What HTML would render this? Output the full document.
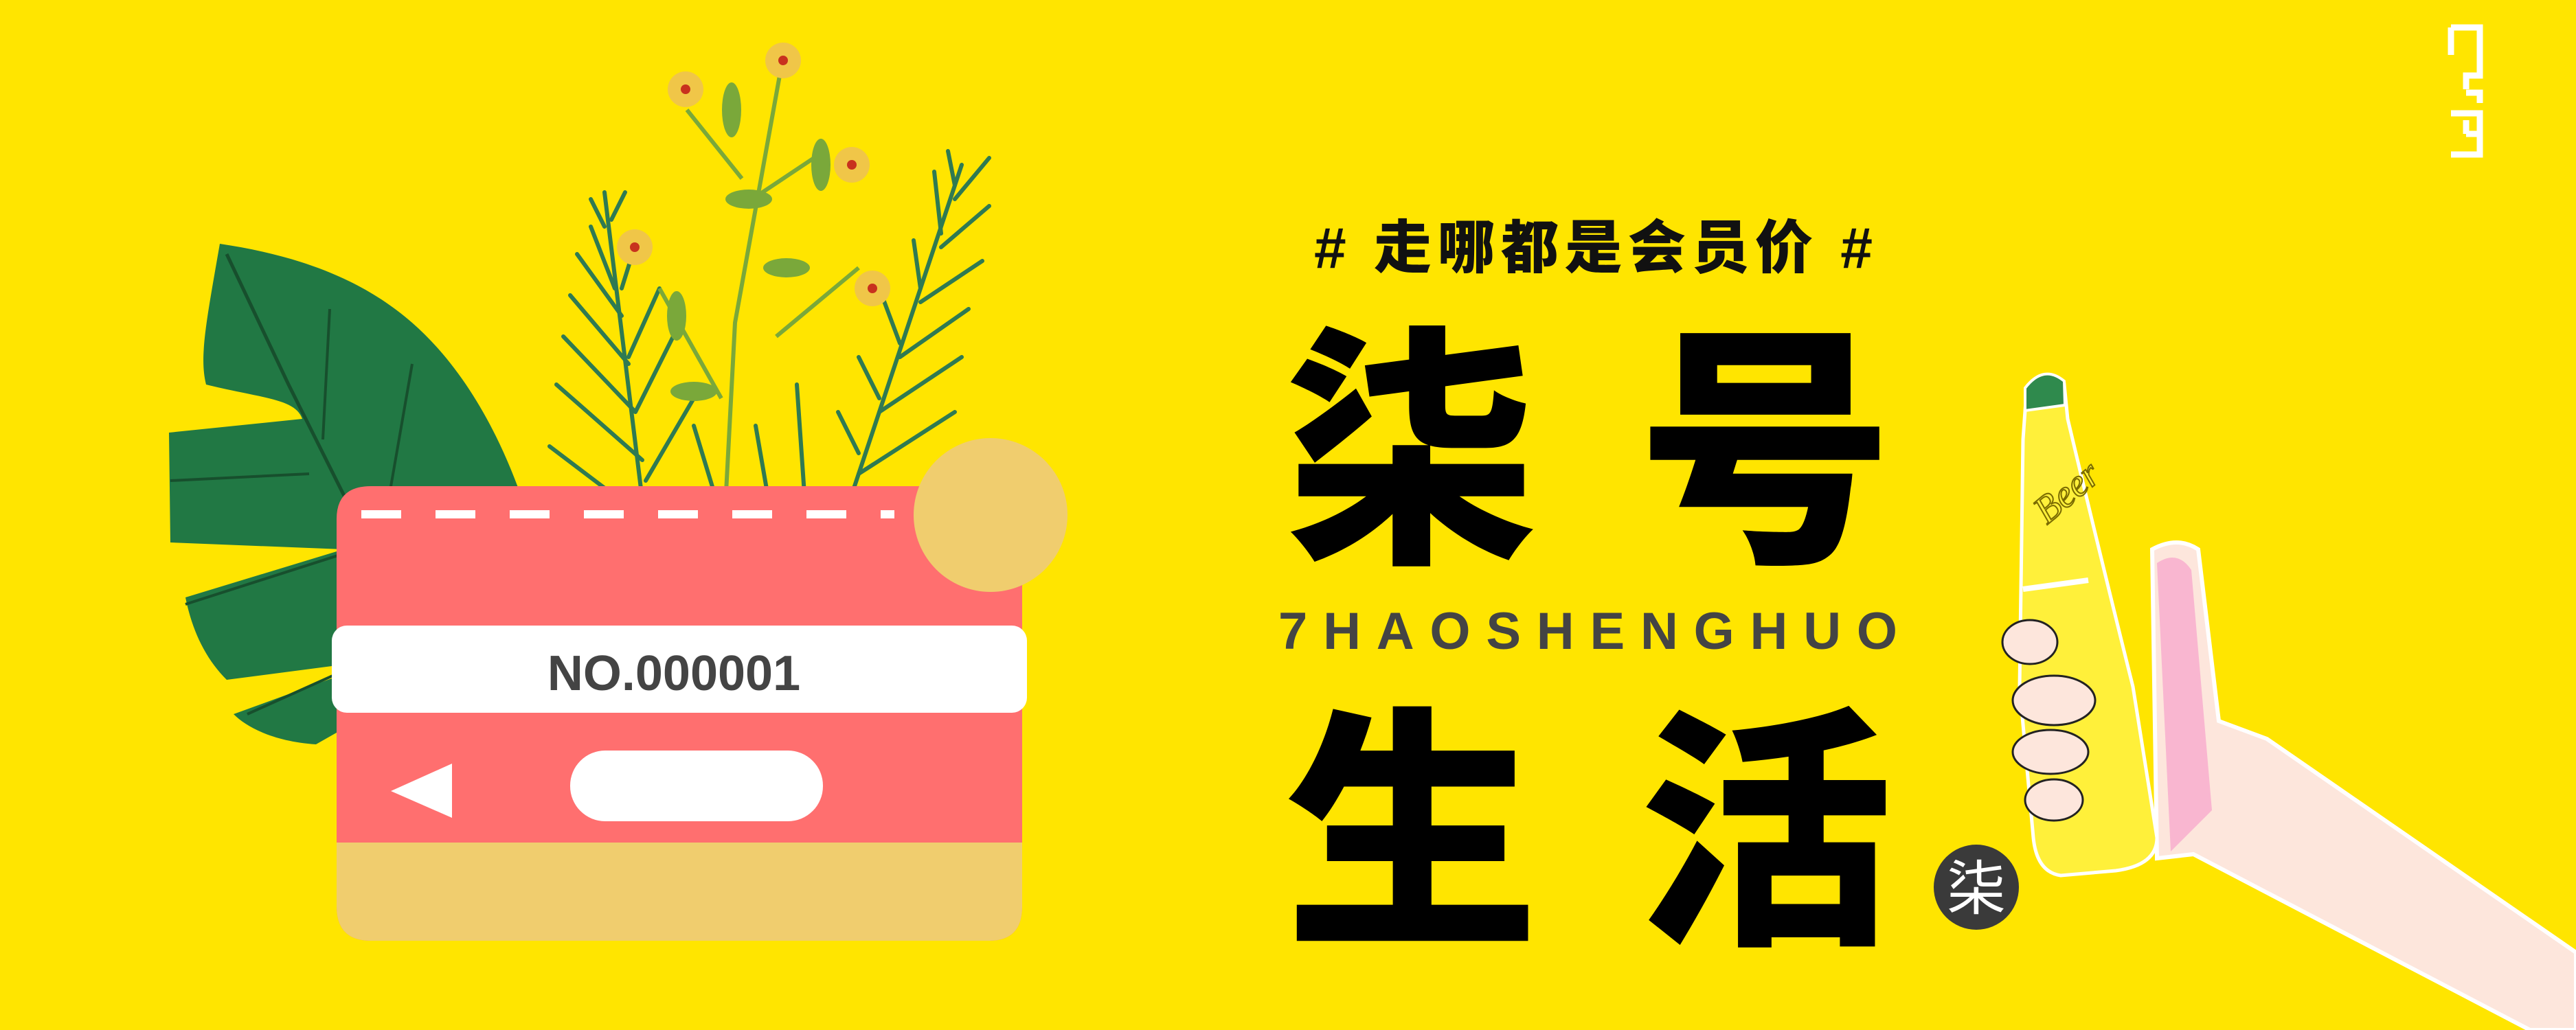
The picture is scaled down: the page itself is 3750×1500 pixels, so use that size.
<!DOCTYPE html>
<html><head><meta charset="utf-8"><style>
html,body{margin:0;padding:0;width:3750px;height:1500px;overflow:hidden;background:#FFE500}
svg{display:block}
</style></head><body>
<svg width="3750" height="1500" viewBox="0 0 3750 1500" xmlns="http://www.w3.org/2000/svg">
<rect width="3750" height="1500" fill="#FFE500"/>

<g>
<path d="M320 355 C420 370 520 400 600 470 C680 540 740 650 777 780 L777 904 L460 1084 C400 1080 360 1060 340 1040 L560 960 L330 990 C300 960 280 920 270 870 L500 800 L248 790 L246 630 L440 610 C430 580 380 580 300 560 C290 520 300 470 320 355 Z" fill="#217844"/>
<path d="M330 370 L420 560 L520 760 L640 900" stroke="#174f2d" stroke-width="5" fill="none"/>
<path d="M248 700 L450 690 M270 880 L520 800 M360 1040 L560 950 M480 450 L470 640 M600 530 L560 760" stroke="#174f2d" stroke-width="4" fill="none"/>
</g>

<g stroke="#2f7a52" stroke-width="6" fill="none" stroke-linecap="round">
<path d="M880 280 L950 850"/>
<path d="M880 330 L860 290 M895 420 L860 330 M905 460 L840 370 M915 530 L830 430 M925 600 L820 490 M935 670 L810 560 M945 760 L800 650 M890 320 L910 280 M905 420 L930 340 M915 520 L960 420 M925 600 L980 490 M940 700 L1010 580"/>
<path d="M1400 240 L1200 840"/>
<path d="M1390 270 L1380 220 M1370 340 L1360 250 M1340 420 L1330 350 M1310 500 L1280 420 M1280 580 L1250 520 M1250 660 L1220 600 M1390 290 L1440 230 M1370 360 L1440 300 M1340 440 L1430 380 M1310 520 L1410 450 M1280 600 L1400 520 M1250 690 L1390 600 M1220 780 L1370 700"/>
<path d="M1100 620 L1140 850 M1160 560 L1180 850 M1010 620 L1080 850"/>
</g>
<g stroke="#7aa83a" stroke-width="6" fill="none">
<path d="M1135 110 L1070 470 L1050 850"/>
<path d="M1000 160 L1080 260 M1080 300 L1200 220 M960 420 L1050 580 M1250 390 L1130 490"/>
<ellipse cx="1065" cy="160" rx="14" ry="40" fill="#7aa83a" stroke="none"/>
<ellipse cx="1195" cy="240" rx="14" ry="38" fill="#7aa83a" stroke="none"/>
<ellipse cx="1090" cy="290" rx="34" ry="14" fill="#7aa83a" stroke="none"/>
<ellipse cx="1145" cy="390" rx="34" ry="14" fill="#7aa83a" stroke="none"/>
<ellipse cx="985" cy="460" rx="14" ry="36" fill="#7aa83a" stroke="none"/>
<ellipse cx="1010" cy="570" rx="34" ry="14" fill="#7aa83a" stroke="none"/>
</g>
<g>
<circle cx="1140" cy="88" r="26" fill="#f0c648"/><circle cx="1140" cy="88" r="7" fill="#c8321e"/>
<circle cx="998" cy="130" r="26" fill="#f0c648"/><circle cx="998" cy="130" r="7" fill="#c8321e"/>
<circle cx="1240" cy="240" r="26" fill="#f0c648"/><circle cx="1240" cy="240" r="7" fill="#c8321e"/>
<circle cx="924" cy="360" r="26" fill="#f0c648"/><circle cx="924" cy="360" r="7" fill="#c8321e"/>
<circle cx="1270" cy="420" r="26" fill="#f0c648"/><circle cx="1270" cy="420" r="7" fill="#c8321e"/>
</g>

<g>
<path d="M540 708 H1440 Q1488 708 1488 756 V1320 Q1488 1370 1440 1370 H540 Q490 1370 490 1320 V756 Q490 708 540 708 Z" fill="#FF6F6F"/>
<path d="M490 1227 H1488 V1320 Q1488 1370 1440 1370 H540 Q490 1370 490 1320 Z" fill="#F0CD6E"/>
<line x1="526" y1="749" x2="1302" y2="749" stroke="#fff" stroke-width="12" stroke-dasharray="58 50"/>
<ellipse cx="1442" cy="750" rx="112" ry="112" fill="#F0CD6E"/>
<rect x="483" y="911" width="1012" height="127" rx="22" fill="#fff"/>
<text x="981" y="1005" text-anchor="middle" font-family="Liberation Sans, sans-serif" font-weight="bold" font-size="72" fill="#444">NO.000001</text>
<polygon points="569,1152 658,1112 658,1191" fill="#fff"/>
<rect x="830" y="1093" width="368" height="103" rx="51" fill="#fff"/>
</g>

<text x="1913" y="390" textLength="813" font-family="Liberation Sans, 'Noto Sans CJK SC', sans-serif" font-weight="900" font-size="84" fill="#111"># 走哪都是会员价 #</text>
<text x="1870" y="790" font-family="'Noto Sans CJK SC', 'WenQuanYi Zen Hei', sans-serif" font-weight="900" font-size="370" fill="#000" letter-spacing="145">柒号</text>
<text x="1861" y="945" font-family="Liberation Sans, sans-serif" font-weight="bold" font-size="76" fill="#444" letter-spacing="39" textLength="940">7HAOSHENGHUO</text>
<text x="1870" y="1345" font-family="'Noto Sans CJK SC', 'WenQuanYi Zen Hei', sans-serif" font-weight="900" font-size="370" fill="#000" letter-spacing="145">生活</text>
<circle cx="2877" cy="1292" r="62" fill="#3a3a3a"/>
<text x="2877" y="1324" text-anchor="middle" font-family="'Noto Sans CJK SC', sans-serif" font-size="86" fill="#fff">柒</text>

<g stroke="#fff" stroke-width="9" fill="none">
<path d="M3568 40 H3610 V110 H3590 V130 M3568 40 V80 M3590 135 H3610 V150"/>
<path d="M3568 165 H3610 V225 H3568 M3590 195 H3610 M3590 175 V195"/>
</g>

<g>
<path d="M3133 800 Q3170 780 3200 800 L3230 1050 L3300 1076 L3750 1387 L3750 1500 L3683 1500 L3193 1244 L3140 1250 Z" fill="#FDE6DC" stroke="#fff" stroke-width="6"/>
<path d="M3140 820 Q3170 800 3190 830 L3220 1180 L3160 1240 Z" fill="#F9B6D0"/>
</g>
<g>
<path d="M2950 570 L3005 560 L3010 610 Q3060 820 3105 1000 L3140 1220 Q3140 1260 3080 1268 L3000 1275 Q2965 1270 2960 1220 L2940 1000 L2945 640 Z" fill="#FFF03A" stroke="#fff" stroke-width="5"/>
<path d="M2948 565 Q2975 530 3005 555 L3006 590 L2948 598 Z" fill="#2f8a4d" stroke="#fff" stroke-width="4"/>
<text x="2960" y="750" font-family="Liberation Serif, serif" font-style="italic" font-size="56" fill="#FFF03A" stroke="#7a6b00" stroke-width="2" transform="rotate(-40 2990 730)">Beer</text>
<path d="M2945 858 L3040 845" stroke="#fff" stroke-width="8"/>
</g>
<g fill="#FDE6DC" stroke="#222" stroke-width="3">
<ellipse cx="2955" cy="935" rx="40" ry="32"/>
<ellipse cx="2990" cy="1020" rx="60" ry="36"/>
<ellipse cx="2985" cy="1095" rx="55" ry="32"/>
<ellipse cx="2990" cy="1165" rx="42" ry="30"/>
</g>
</svg>
</body></html>
